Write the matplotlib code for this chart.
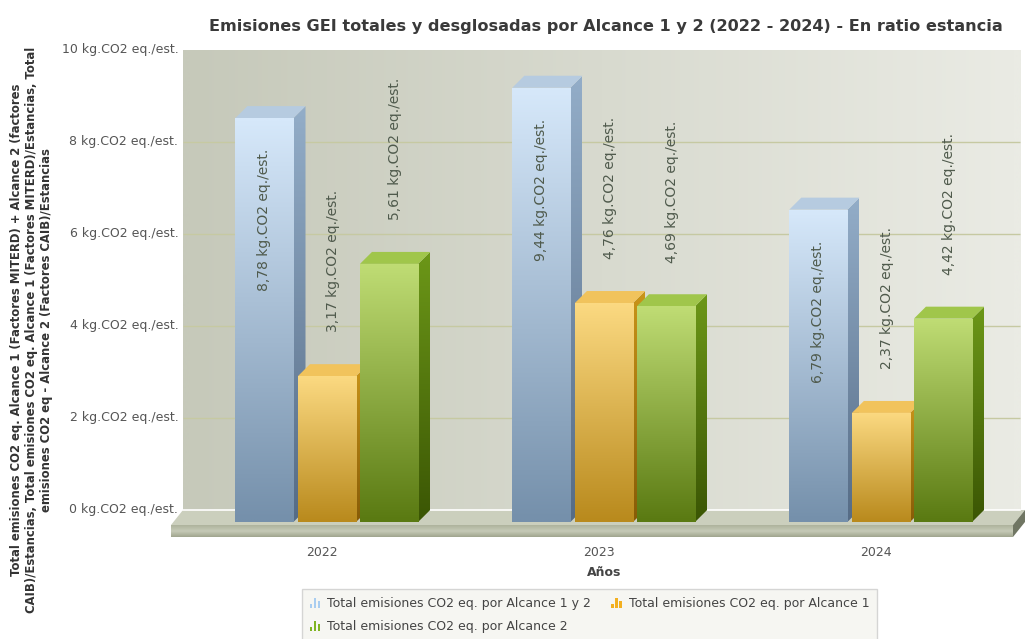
#!/usr/bin/env python3
"""
Emisiones GEI por estancia (Alcance 1 y 2), 2022-2024.

Pseudo-3D grouped column chart drawn with plain matplotlib patches.
"""

import matplotlib
matplotlib.use("Agg")
import matplotlib.pyplot as plt
import numpy as np
from matplotlib.colors import to_rgb
from matplotlib.legend_handler import HandlerBase
from matplotlib.patches import Polygon, Rectangle

# ---------------------------------------------------------------- data
YEARS = ["2022", "2023", "2024"]
SERIES = [
    "Total emisiones CO2 eq. por Alcance 1 y 2",
    "Total emisiones CO2 eq. por Alcance 1",
    "Total emisiones CO2 eq. por Alcance 2",
]
ALCANCE_1_2 = [8.78, 9.44, 6.79]
ALCANCE_1 = [3.17, 4.76, 2.37]
ALCANCE_2 = [5.61, 4.69, 4.42]
Y_TICKS = [0, 2, 4, 6, 8, 10]
UNIT = "kg.CO2 eq./est."

TITLE = ("Emisiones GEI totales y desglosadas por Alcance 1 y 2 "
         "(2022 - 2024) - En ratio estancia")
Y_LABEL = ("Total emisiones CO2 eq. Alcance 1 (Factores MITERD) + Alcance 2 (factores\n"
           "CAIB)/Estancias, Total emisiones CO2 eq. Alcance 1 (Factores MITERD)/Estancias, Total\n"
           "emisiones CO2 eq - Alcance 2 (Factores CAIB)/Estancias")
X_LABEL = "Años"

# ---------------------------------------------------------------- style
# front top, front bottom, side top, side bottom, top face, legend icon
PALETTE = [
    ("#d6e8fa", "#7590ab", "#93adc8", "#566c86", "#b6cbe0", "#a9cdf0"),
    ("#fbd981", "#b98a1d", "#c99419", "#875c07", "#f1c35c", "#f3b020"),
    ("#bfdc74", "#5a7a12", "#6c9718", "#3b5604", "#a0c64b", "#7fb421"),
]
BAR_W = 0.21
OFFSETS = [-0.226, 0.0, 0.224]
DX, DY = 0.0433, 0.26          # bar depth (x data units, y value units)
WALL_X = (-0.520, 2.502)
FLOOR_X = (-0.520, 2.520)
FLOOR_DX, FLOOR_DY, FLOOR_T = 0.0433, 0.326, 0.26
TEXT_C = "#4f5a4c"


def gradient(ax, clip_patch, extent, c_top, c_bottom, horizontal=False, z=2,
             c_mid=None):
    """Fill a patch with a linear gradient (optionally through a mid colour)."""
    t = np.linspace(0, 1, 64)
    a, b = np.array(to_rgb(c_top)), np.array(to_rgb(c_bottom))
    if c_mid is None:
        cols = a[None, :] * (1 - t[:, None]) + b[None, :] * t[:, None]
    else:
        m = np.array(to_rgb(c_mid))
        u = np.abs(t - 0.5) * 2
        first = t < 0.5
        cols = np.where(first[:, None],
                        m[None, :] * (1 - u[:, None]) + a[None, :] * u[:, None],
                        m[None, :] * (1 - u[:, None]) + b[None, :] * u[:, None])
    img = cols[None, :, :] if horizontal else cols[:, None, :]
    im = ax.imshow(img, extent=extent, aspect="auto", origin="upper",
                   interpolation="bilinear", zorder=z)
    im.set_clip_path(clip_patch)
    return im


def draw_scene(ax):
    # back wall
    wall = Rectangle((WALL_X[0], 0), WALL_X[1] - WALL_X[0], 10,
                     facecolor="none", edgecolor="none")
    ax.add_patch(wall)
    gradient(ax, wall, (WALL_X[0], WALL_X[1], 0, 10),
             "#c6c9ba", "#eaebe4", horizontal=True, z=0)
    ax.hlines(Y_TICKS[1:-1], WALL_X[0], WALL_X[1], colors="#c6c9a2",
              linewidth=1.0, zorder=1)

    # floor slab
    x0, x1 = FLOOR_X
    top = Polygon([(x0, 0), (x1, 0), (x1 - FLOOR_DX, -FLOOR_DY),
                   (x0 - FLOOR_DX, -FLOOR_DY)], closed=True,
                  facecolor="#cbcfbd", edgecolor="none", zorder=1)
    ax.add_patch(top)
    ax.plot([x0, WALL_X[1]], [0, 0], color="white", linewidth=1.2, zorder=1.5)
    front = Rectangle((x0 - FLOOR_DX, -FLOOR_DY - FLOOR_T), x1 - x0, FLOOR_T,
                      facecolor="none", edgecolor="none")
    ax.add_patch(front)
    gradient(ax, front, (x0 - FLOOR_DX, x1 - FLOOR_DX, -FLOOR_DY - FLOOR_T, -FLOOR_DY),
             "#aeb39c", "#a0a58e", z=1, c_mid="#c6cab7")
    side = Polygon([(x1 - FLOOR_DX, -FLOOR_DY), (x1, 0), (x1, -FLOOR_T),
                    (x1 - FLOOR_DX, -FLOOR_DY - FLOOR_T)], closed=True,
                   facecolor="#707663", edgecolor="none", zorder=1)
    ax.add_patch(side)


def draw_bar(ax, xc, v, cols, z):
    ftop, fbot, stop, sbot, tface, _ = cols
    xl, xr = xc - BAR_W / 2, xc + BAR_W / 2
    yb, yt = -DY, v - DY

    side = Polygon([(xr, yb), (xr + DX, 0), (xr + DX, v), (xr, yt)],
                   closed=True, facecolor="none", edgecolor="none")
    ax.add_patch(side)
    gradient(ax, side, (xr, xr + DX, yb, v), stop, sbot, z=z)

    topf = Polygon([(xl, yt), (xr, yt), (xr + DX, v), (xl + DX, v)],
                   closed=True, facecolor=tface, edgecolor="none", zorder=z)
    ax.add_patch(topf)

    front = Rectangle((xl, yb), BAR_W, v, facecolor="none", edgecolor="none")
    ax.add_patch(front)
    gradient(ax, front, (xl, xr, yb, yt), ftop, fbot, z=z + 0.1)


def fmt(v):
    return f"{v:.2f}".replace(".", ",") + " " + UNIT


def draw_label(ax, xc, v):
    text_len = 3.15     # rotated label length in value units
    above = v - DY + 0.95
    if above + text_len > 10.1:
        ax.text(xc, v - DY - 0.67, fmt(v), rotation=90, ha="center", va="top",
                fontsize=10, color=TEXT_C, zorder=20)
    else:
        ax.text(xc + DX / 2, above, fmt(v), rotation=90, ha="center",
                va="bottom", fontsize=10, color=TEXT_C, zorder=20)


class BarIconHandler(HandlerBase):
    """Small three-column icon used by the legend."""

    def create_artists(self, legend, orig_handle, xdescent, ydescent,
                       width, height, fontsize, trans):
        color = orig_handle.get_facecolor()
        bw = width / 4.2
        arts = []
        for k, h in enumerate([0.5, 1.15, 0.8]):
            arts.append(Rectangle((-xdescent + k * bw * 1.45, -ydescent - 1),
                                  bw, height * h, facecolor=color,
                                  edgecolor="none", transform=trans))
        return arts


def main():
    fig = plt.figure(figsize=(10.25, 6.39), dpi=100)
    fig.patch.set_facecolor("white")
    W, H = 1025.0, 639.0
    ax = fig.add_axes([165 / W, 1 - 545 / H, 860 / W, 505 / H])

    draw_scene(ax)

    series = [ALCANCE_1_2, ALCANCE_1, ALCANCE_2]
    x = np.arange(len(YEARS))
    for s, vals in enumerate(series):
        for i, v in enumerate(vals):
            draw_bar(ax, x[i] + OFFSETS[s], v, PALETTE[s], z=3 + s)
    for s, vals in enumerate(series):
        for i, v in enumerate(vals):
            draw_label(ax, x[i] + OFFSETS[s], v)

    ax.set_xlim(-0.585, 2.520)
    ax.set_ylim(-0.761, 10.217)
    for sp in ax.spines.values():
        sp.set_visible(False)
    ax.set_yticks([])
    ax.set_xticks(x - 0.018)
    ax.set_xticklabels(YEARS, fontsize=9, color="#555555")
    ax.tick_params(axis="x", length=0, pad=1)
    for t in Y_TICKS:
        ax.text(WALL_X[0] - 0.017, t, f"{t} {UNIT}", ha="right", va="center",
                fontsize=9, color="#555555")

    fig.text(606 / W, 1 - 27 / H, TITLE, ha="center", va="center",
             fontsize=11.6, fontweight="bold", color="#3a3a3a")
    fig.text(604 / W, 1 - 572 / H, X_LABEL, ha="center", va="center",
             fontsize=9, fontweight="bold", color="#444444")
    fig.text(32 / W, 1 - 330 / H, Y_LABEL, rotation=90, ha="center",
             va="center", multialignment="center", fontsize=8.4,
             fontweight="bold", color="#333333", linespacing=1.2)

    handles = [Rectangle((0, 0), 1, 1, facecolor=c[5]) for c in PALETTE]
    order = [0, 2, 1]
    leg = fig.legend([handles[k] for k in order], [SERIES[k] for k in order],
                     ncol=2, loc="upper left", bbox_to_anchor=(296 / W, 1 - 583 / H),
                     handler_map={Rectangle: BarIconHandler()}, fontsize=9,
                     frameon=True, fancybox=False, handlelength=0.9,
                     handletextpad=0.5, columnspacing=1.6, borderpad=0.6,
                     labelspacing=0.8, labelcolor="#444444")
    leg.get_frame().set_facecolor("#f4f4ef")
    leg.get_frame().set_edgecolor("#cccccc")

    fig.savefig("out.png", dpi=100)
    plt.close(fig)


if __name__ == "__main__":
    main()
